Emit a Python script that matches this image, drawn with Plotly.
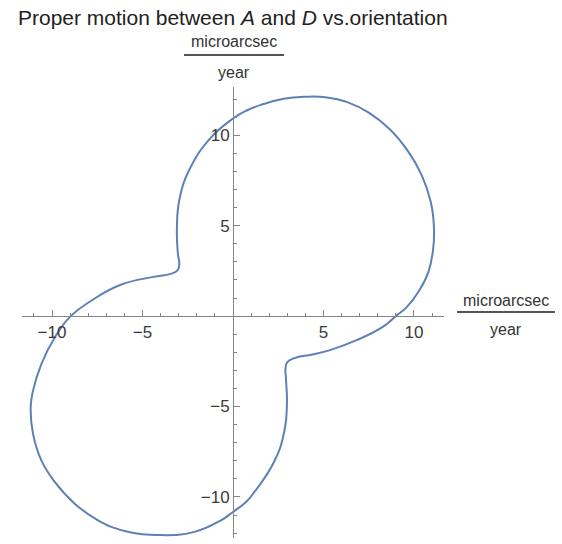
import plotly.graph_objects as go

# Curve (microarcsec / year), going round from the right crossing
curve_x = [9.0, 9.6, 10.25, 10.8, 11.07, 11.1, 10.92, 10.4, 9.65, 8.65, 7.5, 6.35,
           5.1, 4.0, 2.8, 1.6, 0.75, 0.0, -1.27, -2.38, -2.95, -3.1, -3.05, -2.97,
           -3.05, -3.4, -4.4, -6.24, -7.83, -8.97, -9.85, -10.59, -11.05, -11.18, -11.05,
           -10.59, -9.85, -8.75, -7.46, -5.99, -3.97, -2.13, -0.66, 0.0, 0.72, 1.2, 2.3,
           2.85, 2.98, 2.93, 2.9, 3.0, 3.4, 4.4, 5.36, 6.83, 8.3, 9.0]
curve_y = [0.0, 0.5, 1.35, 2.45, 3.8, 5.0, 6.35, 7.85, 9.15, 10.35, 11.25, 11.82,
           12.1, 12.13, 12.02, 11.7, 11.37, 10.93, 9.82, 8.16, 6.5, 4.85, 3.5, 2.9,
           2.55, 2.35, 2.17, 1.72, 0.85, 0.0, -1.18, -2.65, -4.12, -5.04, -6.51,
           -7.98, -9.17, -10.37, -11.29, -11.88, -12.11, -11.93, -11.29, -10.83, -10.28, -9.7, -8.0,
           -6.3, -4.8, -3.5, -2.9, -2.55, -2.32, -2.12, -1.88, -1.33, -0.58, 0.0]

tick_vals = [-10, -5, 5, 10]
tick_text = ["\u221210", "\u22125", "5", "10"]

x_range = [-11.66, 11.66]
y_range = [-12.27, 12.67]

W, H = 562, 544
L, R, T, B = 22, 118, 87, 6
PW, PH = W - L - R, H - T - B


def px(x):
    return (x - L) / PW


def py(y):
    return (H - B - y) / PH


fig = go.Figure()
fig.add_trace(go.Scatter(
    x=curve_x, y=curve_y, mode="lines",
    line=dict(color="#5E81B5", width=2, shape="spline", smoothing=1.3),
    hoverinfo="skip", showlegend=False,
))

axis_col = "#858585"
tick_font = dict(family="Liberation Sans, Arial, sans-serif", size=17, color="#3a3a3a")

common = dict(
    showgrid=False, zeroline=False, showline=True, linecolor=axis_col, linewidth=1,
    tickmode="array", tickvals=tick_vals, ticktext=tick_text,
    ticks="inside", ticklen=6, tickcolor=axis_col, tickwidth=1, tickfont=tick_font,
    minor=dict(tickmode="linear", tick0=0, dtick=1, ticks="inside", ticklen=3,
               tickcolor=axis_col, tickwidth=1, showgrid=False),
    anchor="free", automargin=False,
)

fig.update_layout(
    width=W, height=H,
    margin=dict(l=L, r=R, t=T, b=B, autoexpand=False),
    paper_bgcolor="white", plot_bgcolor="white",
    title=dict(
        text="Proper motion between <i>A</i> and <i>D</i> vs.orientation",
        x=18 / W, xanchor="left", xref="container",
        y=1 - 18 / H, yanchor="middle", yref="container",
        font=dict(family="Liberation Sans, Arial, sans-serif", size=21, color="#222222"),
    ),
    xaxis=dict(range=x_range, position=(0 - y_range[0]) / (y_range[1] - y_range[0]), **common),
    yaxis=dict(range=y_range, position=(0 - x_range[0]) / (x_range[1] - x_range[0]), **common),
)

label_font = dict(family="Liberation Sans, Arial, sans-serif", size=16, color="#333333")

# fraction-style unit labels: microarcsec / year
for cx, top_y, line_y, bot_y, half in [(234, 42, 55, 72, 50), (506, 300, 312, 329, 49)]:
    fig.add_annotation(x=px(cx), y=py(top_y), xref="paper", yref="paper", text="microarcsec",
                       showarrow=False, xanchor="center", yanchor="middle", font=label_font)
    fig.add_annotation(x=px(cx), y=py(bot_y), xref="paper", yref="paper", text="year",
                       showarrow=False, xanchor="center", yanchor="middle", font=label_font)
    fig.add_shape(type="line", xref="paper", yref="paper",
                  x0=px(cx - half), x1=px(cx + half), y0=py(line_y), y1=py(line_y),
                  line=dict(color="#555555", width=2))

# drop the browser's default body margin so the figure sits at the window origin
fig.write_html("out.html", config={"displayModeBar": False},
               post_script="document.body.style.margin='0';")
